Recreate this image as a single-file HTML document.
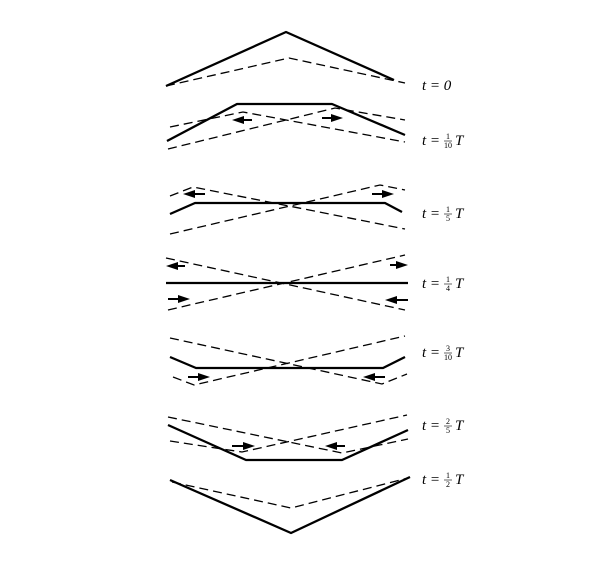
<!DOCTYPE html>
<html><head><meta charset="utf-8"><style>
html,body{margin:0;padding:0;background:#fff;width:605px;height:576px;overflow:hidden}
svg{display:block}
.s{fill:none;stroke:#000;stroke-width:2.3;stroke-linejoin:round}
.d{fill:none;stroke:#000;stroke-width:1.3;stroke-dasharray:9 5}
.lbl{font-family:"Liberation Serif",serif;font-style:italic;font-size:15px}
.fr{font-family:"Liberation Serif",serif;font-size:8px}
</style></head><body>
<svg id="fig" width="605" height="576" viewBox="0 0 605 576"></svg>
<script>
// Each panel: solid string shape, two dashed travelling pulses, arrows [x1,x2,y] (from->to)
const panelNames=["t-0","t-1-10","t-1-5","t-1-4","t-3-10","t-2-5","t-1-2"];
const solidShapes=[
 [[166,86],[286,32],[394,80]],
 [[167,141],[237,104],[332,104],[405,135]],
 [[170,214],[195,203],[385,203],[402,212]],
 [[166,283],[408,283]],
 [[170,357],[196,368],[383,368],[405,357]],
 [[168,425],[246,460],[342,460],[408,430]],
 [[170,480],[291,533],[410,477]]
];
const dashedA=[
 [[166,86],[289,58],[405,83]],
 [[170,127],[243,112],[405,142]],
 [[170,196],[193,187],[405,229]],
 [[166,258],[405,310]],
 [[170,338],[382,384],[407,374]],
 [[168,417],[342,453],[408,439]],
 [[172,482],[291,508],[408,478]]
];
const dashedB=[
 [],
 [[168,149],[335,108],[405,120]],
 [[170,234],[380,185],[405,190]],
 [[168,310],[405,255]],
 [[173,377],[194,385],[405,336]],
 [[170,441],[242,452],[407,415]],
 []
];
const arrows=[
 [],
 [[252,232,120],[322,343,118]],
 [[205,183,194],[372,394,194]],
 [[185,166,266],[390,408,265],[168,190,299],[408,385,300]],
 [[188,210,377],[385,363,377]],
 [[232,255,446],[345,325,446]],
 []
];
const labelY=[85,140,213,283,352,425,479];
const labelNum=["","1","1","1","3","2","1"];
const labelDen=["","10","5","4","10","5","2"];

const svg=document.getElementById('fig');
const NS="http://www.w3.org/2000/svg";
function pts(a){return a.map(p=>p.join(',')).join(' ');}
panelNames.forEach((nm,i)=>{
  const g=document.createElementNS(NS,'g');
  
  
  svg.appendChild(g);
  [[dashedA[i],'d','dashed-pulse-a'],[dashedB[i],'d','dashed-pulse-b'],[solidShapes[i],'s','string-shape']].forEach(([a,c,n])=>{
    if(!a.length)return;
    const p=document.createElementNS(NS,'polyline');
    p.setAttribute('points',pts(a));p.setAttribute('class',c);
    
    
    g.appendChild(p);
  });
  arrows[i].forEach(([x1,x2,y])=>{
    const dir=Math.sign(x2-x1);
    const hx=x2-dir*12;
    const ar=document.createElementNS(NS,'g');
    
    
    const l=document.createElementNS(NS,'line');
    l.setAttribute('x1',x1);l.setAttribute('y1',y);l.setAttribute('x2',hx);l.setAttribute('y2',y);
    l.setAttribute('stroke','#000');l.setAttribute('stroke-width','2');
    const h=document.createElementNS(NS,'polygon');
    h.setAttribute('points',`${x2},${y} ${hx},${y-4} ${hx},${y+4}`);
    h.setAttribute('fill','#000');
    ar.appendChild(l);ar.appendChild(h);g.appendChild(ar);
  });
  const t=document.createElementNS(NS,'text');
  t.setAttribute('x',422);t.setAttribute('y',labelY[i]+5);t.setAttribute('class','lbl');
  
  
  if(i===0){t.textContent='t = 0';g.appendChild(t);}
  else{
    t.textContent='t =';g.appendChild(t);
    const n=document.createElementNS(NS,'text');
    n.setAttribute('x',448);n.setAttribute('y',labelY[i]-1);n.setAttribute('class','fr');n.setAttribute('text-anchor','middle');
    
    
    n.textContent=labelNum[i];g.appendChild(n);
    const d=document.createElementNS(NS,'text');
    d.setAttribute('x',448);d.setAttribute('y',labelY[i]+8);d.setAttribute('class','fr');d.setAttribute('text-anchor','middle');
    
    
    d.textContent=labelDen[i];g.appendChild(d);
    const b=document.createElementNS(NS,'line');
    b.setAttribute('x1',444);b.setAttribute('x2',452);b.setAttribute('y1',labelY[i]+1);b.setAttribute('y2',labelY[i]+1);
    b.setAttribute('stroke','#000');b.setAttribute('stroke-width','0.6');
    g.appendChild(b);
    const T=document.createElementNS(NS,'text');
    T.setAttribute('x',455);T.setAttribute('y',labelY[i]+5);T.setAttribute('class','lbl');
    
    
    T.textContent='T';g.appendChild(T);
  }
});
</script>
</body></html>
